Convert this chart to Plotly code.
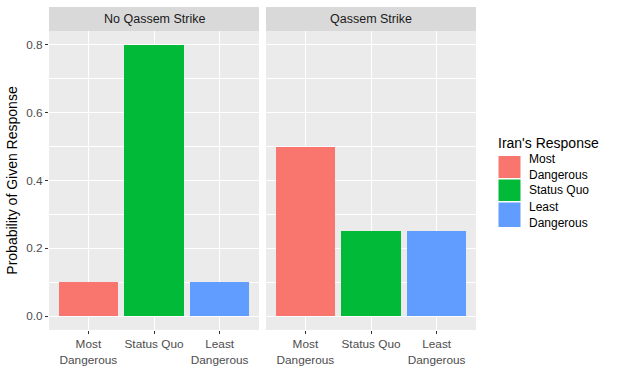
import plotly.graph_objects as go

categories = ["Most<br>Dangerous", "Status Quo", "Least<br>Dangerous"]
legend_labels = ["Most<br>Dangerous", "Status Quo", "Least<br>Dangerous"]
colors = ["#F8766D", "#00BA38", "#619CFF"]
panels = ["No Qassem Strike", "Qassem Strike"]
no_strike = [0.1, 0.8, 0.1]
strike = [0.5, 0.25, 0.25]
y_ticks = [0.0, 0.2, 0.4, 0.6, 0.8]
y_tick_text = ["0.0", "0.2", "0.4", "0.6", "0.8"]

W, H = 619, 370
L, R, T, B = 49, 143, 7, 40
PW, PH = W - L - R, H - T - B

def px(x):
    return (x - L) / PW

def py(y):
    return (H - B - y) / PH

strip_h = 24
ytop = py(T + strip_h)
x1_dom = [0, 210 / PW]
x2_dom = [217 / PW, 1]

fig = go.Figure()
for i, vals in enumerate([no_strike, strike]):
    fig.add_trace(go.Bar(
        x=categories, y=vals, marker=dict(color=colors, line=dict(width=0)),
        width=0.9, xaxis="x" if i == 0 else "x2", yaxis="y" if i == 0 else "y2",
        showlegend=False, hoverinfo="x+y"))

font = dict(family="Arial, Liberation Sans, sans-serif")
axis_common = dict(
    showgrid=True, gridcolor="white", gridwidth=1.1, zeroline=False,
    ticks="outside", ticklen=3, tickcolor="#333333", tickwidth=1,
    tickfont=dict(size=11.8, color="#4D4D4D", family=font["family"]),
    showline=False, automargin=False)
xcommon = dict(axis_common, type="category", range=[-0.6, 2.6])
ycommon = dict(axis_common, range=[-0.041, 0.841], tickvals=y_ticks, ticktext=y_tick_text,
               minor=dict(dtick=0.1, tick0=0, showgrid=True, gridcolor="white", gridwidth=0.5, ticks=""))

fig.update_layout(
    width=W, height=H, margin=dict(l=L, r=R, t=T, b=B),
    paper_bgcolor="white", plot_bgcolor="#EBEBEB", bargap=0,
    font=font,
    xaxis=dict(xcommon, domain=x1_dom, anchor="y"),
    xaxis2=dict(xcommon, domain=x2_dom, anchor="y2"),
    yaxis=dict(ycommon, domain=[0, ytop], anchor="x",
               title=dict(text="Probability of Given Response", font=dict(size=14, color="black"), standoff=5)),
    yaxis2=dict(ycommon, domain=[0, ytop], anchor="x2", showticklabels=False, ticks=""),
)

shapes = []
annotations = []
for dom, name in zip([x1_dom, x2_dom], panels):
    shapes.append(dict(type="rect", xref="paper", yref="paper", x0=dom[0], x1=dom[1],
                       y0=ytop, y1=1, fillcolor="#D9D9D9", line=dict(width=0), layer="below"))
    annotations.append(dict(text=name, xref="paper", yref="paper", x=(dom[0] + dom[1]) / 2,
                            y=(ytop + 1) / 2, showarrow=False, xanchor="center", yanchor="middle",
                            font=dict(size=12.5, color="#1A1A1A")))

# legend
annotations.append(dict(text="Iran's Response", xref="paper", yref="paper", x=px(496), y=py(143),
                        showarrow=False, xanchor="left", yanchor="middle", font=dict(size=14, color="black")))
key_y = [(156, 178), (179.5, 201), (202.5, 227)]
for (y0, y1), c, lab in zip(key_y, colors, legend_labels):
    shapes.append(dict(type="rect", xref="paper", yref="paper", x0=px(498.5), x1=px(520.5),
                       y0=py(y1), y1=py(y0), fillcolor=c, line=dict(width=0)))
    annotations.append(dict(text=lab, xref="paper", yref="paper", x=px(527), y=py((y0 + y1) / 2),
                            showarrow=False, xanchor="left", yanchor="middle", align="left",
                            font=dict(size=12, color="black")))

fig.update_layout(shapes=shapes, annotations=annotations)
fig.write_html("out.html")
